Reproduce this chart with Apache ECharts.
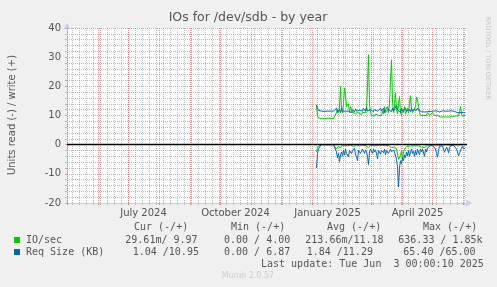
<!DOCTYPE html>
<html><head><meta charset="utf-8">
<script src="https://cdn.jsdelivr.net/npm/echarts@6/dist/echarts.min.js"></script>
<style>html,body{margin:0;padding:0;background:#f0f0f0}#c{width:497px;height:287px}</style>
</head><body><div id="c"></div>
<script>
const chartTitle = 'IOs for /dev/sdb - by year';
const yAxisTitle = 'Units read (-) / write (+)';
const seriesNames = ['IO/sec', 'Req Size (KB)'];
const seriesColors = ['#00CC00', '#0066B3'];
const firstDay = [2025, 0, 5];          // first daily sample
const axisEnd = [2025, 5, 4, 12];       // right edge of the time axis
const spanDays = 400;

// IO/sec write (+)
const ioWrite = [
 13.5,10.0,9.1,9.0,8.9,9.0,9.1,9.0,8.9,9.0,
 9.0,9.1,8.9,9.0,9.0,9.1,9.0,8.9,9.0,9.2,
 11.0,12.0,11.0,13.0,20.0,12.0,11.0,14.0,19.5,17.0,
 13.0,12.5,14.0,11.0,13.0,12.0,11.0,10.5,11.5,10.8,
 11.0,10.5,11.0,10.5,11.0,10.2,11.0,10.5,11.5,11.0,
 12.0,20.0,30.8,14.0,11.0,10.0,9.5,10.0,9.8,10.5,
 10.0,11.0,10.0,9.5,10.5,10.0,11.5,10.5,13.0,11.0,
 10.5,12.0,11.0,14.0,22.0,29.1,15.0,11.0,13.0,17.7,
 12.0,10.5,14.0,16.5,11.0,10.0,12.0,11.0,13.0,10.5,
 11.5,12.5,11.0,14.0,16.8,12.0,11.0,10.5,11.5,13.0,
 16.3,15.5,13.0,11.0,10.0,9.8,10.5,10.0,10.5,10.2,
 10.0,11.0,10.5,10.0,10.5,10.0,11.0,10.5,10.0,10.2,
 10.5,10.0,9.8,9.6,9.5,9.7,9.6,9.5,9.8,9.6,
 9.5,9.7,9.6,9.5,9.8,9.6,9.7,9.5,9.6,9.8,
 9.6,9.5,10.0,11.0,13.1,10.5,9.8,10.0,9.9,9.97
];
// IO/sec read (-)
const ioRead = [
 2.5,1.2,0.5,0.1,0.05,0.05,0.05,0.05,0.05,0.05,
 0.05,0.05,0.05,0.05,0.05,0.05,0.05,0.05,0.05,0.3,
 1.5,1.0,0.5,0.8,1.2,0.4,0.3,0.6,0.3,0.5,
 0.3,0.4,0.6,0.3,0.2,0.4,0.3,0.5,0.2,0.3,
 0.4,0.6,0.3,0.2,0.4,0.3,0.2,0.3,0.4,0.3,
 0.5,0.8,1.0,0.4,0.3,0.2,0.4,0.3,0.2,0.3,
 0.4,0.6,0.3,0.2,0.3,0.4,0.2,0.3,0.5,0.3,
 0.2,0.4,0.3,0.5,0.8,1.0,0.6,0.4,0.8,1.2,
 1.5,3.0,5.0,4.5,3.8,2.0,4.9,2.5,1.5,1.0,
 0.6,0.4,0.8,0.5,0.3,0.6,0.4,0.3,0.5,0.4,
 0.6,0.3,0.4,0.5,0.3,0.8,1.0,0.6,1.0,0.4,
 0.8,0.3,0.2,0.1,0.1,0.1,0.1,0.1,0.1,0.1,
 0.2,0.1,0.1,0.1,0.05,0.05,0.1,0.1,0.1,0.05,
 0.05,0.1,0.1,0.05,0.05,0.05,0.05,0.05,0.05,0.05,
 0.05,0.1,0.1,0.1,0.05,0.05,0.05,0.03,0.03,0.03
];
// Req Size write (+)
const reqWrite = [
 13.7,12.5,11.8,11.5,11.4,11.5,11.6,11.5,11.4,11.5,
 11.6,11.5,11.5,11.6,11.5,11.7,11.6,11.5,11.6,11.8,
 12.5,11.0,11.5,12.0,11.0,12.5,11.5,11.0,12.0,11.5,
 12.0,11.0,11.5,12.0,11.5,11.0,12.0,11.5,11.2,12.3,
 11.5,11.5,12.0,11.8,11.3,12.0,11.5,12.5,12.0,11.5,
 12.8,11.5,11.0,11.8,12.0,11.5,12.0,11.3,12.0,11.5,
 12.6,11.5,12.0,11.8,12.5,11.5,12.0,12.5,11.0,12.0,
 11.5,13.0,12.0,11.5,12.0,11.3,12.5,11.5,12.0,11.0,
 13.5,12.0,11.5,12.0,11.0,12.5,11.5,12.0,11.8,12.5,
 11.5,12.0,11.5,12.0,11.3,12.5,11.5,12.0,12.2,11.5,
 12.0,12.5,11.8,11.5,11.8,11.3,11.5,11.8,11.2,11.5,
 11.8,11.3,11.5,11.8,11.4,11.6,11.2,11.5,11.8,11.3,
 11.6,11.4,11.7,11.2,11.5,11.3,11.6,11.4,11.2,11.5,
 11.8,11.3,11.5,11.2,11.4,11.6,11.3,11.1,11.4,11.2,
 11.5,11.0,11.3,11.5,11.0,11.2,11.5,11.0,11.2,10.95
];
// Req Size read (-)
const reqRead = [
 8.0,3.0,1.5,0.8,0.5,0,0,0,0,0,
 0,0,0,0,0,0,0,0,0,0.5,
 2.5,4.5,3.0,5.8,3.5,2.5,4.0,2.0,3.5,1.5,
 3.0,2.5,4.2,2.0,1.5,3.0,2.0,2.5,1.2,3.5,
 4.2,5.5,2.0,1.5,3.0,2.5,1.5,2.0,3.0,1.8,
 2.5,4.0,6.8,2.5,1.5,2.0,3.0,1.5,2.5,1.8,
 3.0,4.8,2.0,1.5,3.2,2.0,1.5,2.8,1.5,3.5,
 2.0,1.5,3.0,2.2,1.5,2.5,3.0,1.8,2.5,3.0,
 5.0,7.6,14.5,8.0,5.5,6.5,4.5,5.5,3.5,4.5,
 2.5,3.8,2.0,4.0,2.5,1.5,3.0,2.2,4.0,2.0,
 3.5,1.5,2.5,3.5,1.5,2.5,1.5,2.0,4.0,1.5,
 2.5,1.2,0.8,0.5,1.0,0.3,0.2,0.5,0.2,1.5,
 3.0,4.3,2.0,0.5,0.3,0.2,0.5,1.0,2.6,2.0,
 0.8,1.5,2.8,1.0,0.3,0.2,0.4,0.2,0.3,0.5,
 1.5,2.5,3.8,3.0,2.5,1.2,0.5,1.5,1.2,1.04
];

const yMin = -20, yMax = 40, yStep = 10;
const xLabelMonths = [[2024, 6], [2024, 9], [2025, 0], [2025, 3]];
const monthNames = ['January','February','March','April','May','June','July','August','September','October','November','December'];

const legendHeader = ['Cur (-/+)', 'Min (-/+)', 'Avg (-/+)', 'Max (-/+)'];
const ioStats = ['29.61m/ 9.97', '0.00 / 4.00', '213.66m/11.18', '636.33 / 1.85k'];
const reqStats = ['1.04 /10.95', '0.00 / 6.87', '1.84 /11.29', '65.40 /65.00'];
const lastUpdate = 'Last update: Tue Jun  3 00:00:10 2025';
const footerText = 'Munin 2.0.57';
const sideText = 'RRDTOOL / TOBI OETIKER';

// ---------- build ----------
const DAY = 86400000;
const end = Date.UTC.apply(null, axisEnd);
const start = end - spanDays * DAY;
const t0 = Date.UTC.apply(null, firstDay);
const pos = arr => arr.map((v, i) => [t0 + i * DAY, v]);
const neg = arr => arr.map((v, i) => [t0 + i * DAY, -v]);

const monthStarts = [];
for (let y = 2024; y <= 2025; y++) for (let m = 0; m < 12; m++) {
  const t = Date.UTC(y, m, 1);
  if (t > start && t < end) monthStarts.push(t);
}
const weekStarts = [];
{
  let d = new Date(start); d = Date.UTC(d.getUTCFullYear(), d.getUTCMonth(), d.getUTCDate());
  while (new Date(d).getUTCDay() !== 1) d += DAY;
  for (; d < end; d += 7 * DAY) if (d > start) weekStarts.push(d);
}
const labelTimes = xLabelMonths.map(([y, m]) => Date.UTC(y, m, 1) + 15 * DAY);

const TXT = '#555';
const GRID = 'rgba(143,143,143,0.6)';
const MGRID = 'rgba(222,79,79,0.55)';
const AXIS = '#C4CCF4';
const SANS = 'DejaVu Sans';
const MONO = 'DejaVu Sans Mono';

const chart = echarts.init(document.getElementById('c'), null, {renderer: 'canvas'});

const lineSeries = (name, color, data, extra) => Object.assign({
  name, type: 'line', data, showSymbol: false, symbol: 'none',
  lineStyle: {color, width: 1}, itemStyle: {color},
  connectNulls: false, animation: false, silent: true, z: 4
}, extra || {});

const colX = [134, 231, 327, 423];
const ioX = [125.3, 224, 305.3, 398.3];
const reqX = [132.7, 224, 306.7, 403.3];
const monoText = (text, x, y) => ({type: 'text', x, y, silent: true,
  style: {text, fill: TXT, font: '10px "' + MONO + '"', align: 'left', verticalAlign: 'middle', textAlign: 'left', textVerticalAlign: 'middle'}});

const graphics = [
  {type: 'text', x: 248, y: 18, silent: true, style: {text: chartTitle, fill: TXT, font: '12.5px "' + SANS + '"', align: 'center', verticalAlign: 'middle', textAlign: 'center', textVerticalAlign: 'middle'}},
  {type: 'text', x: 12, y: 115, rotation: Math.PI / 2, silent: true, style: {text: yAxisTitle, fill: TXT, font: '10px "' + SANS + '"', align: 'center', verticalAlign: 'middle', textAlign: 'center', textVerticalAlign: 'middle'}},
  {type: 'text', x: 488, y: 58, rotation: -Math.PI / 2, silent: true, style: {text: sideText, fill: '#c4c4c4', font: '6.5px "' + SANS + '"', align: 'center', verticalAlign: 'middle', textAlign: 'center', textVerticalAlign: 'middle'}},
  {type: 'text', x: 248, y: 276, silent: true, style: {text: footerText, fill: '#cccccc', font: '8px "' + SANS + '"', align: 'center', verticalAlign: 'middle', textAlign: 'center', textVerticalAlign: 'middle'}},
  {type: 'rect', shape: {x: 14, y: 237, width: 6, height: 6}, style: {fill: seriesColors[0]}, silent: true},
  {type: 'rect', shape: {x: 14, y: 249, width: 6, height: 6}, style: {fill: seriesColors[1]}, silent: true},
  monoText(seriesNames[0], 26, 240),
  monoText(seriesNames[1], 26, 252),
  monoText(lastUpdate, 261, 264)
];
legendHeader.forEach((t, i) => graphics.push(monoText(t, colX[i], 227)));
ioStats.forEach((t, i) => graphics.push(monoText(t, ioX[i], 240)));
reqStats.forEach((t, i) => graphics.push(monoText(t, reqX[i], 252)));

const option = {
  animation: false,
  backgroundColor: '#f0f0f0',
  grid: {left: 67, right: 30, top: 28, bottom: 84, containLabel: false, outerBoundsMode: 'none',
         show: true, backgroundColor: '#ffffff', borderWidth: 0},
  xAxis: [
    {type: 'value', min: start, max: end, position: 'bottom', z: 3,
     axisLine: {show: true, onZero: false, lineStyle: {color: AXIS, width: 1}, symbol: ['none', 'arrow'], symbolSize: [6, 7], symbolOffset: [0, 5]},
     axisTick: {show: true, customValues: monthStarts, length: 2, lineStyle: {color: MGRID}},
     axisLabel: {show: false},
     splitLine: {show: true, lineStyle: {color: MGRID, type: 'dotted', width: 1}}},
    {type: 'value', min: start, max: end, position: 'bottom', z: 2,
     axisLine: {show: false, onZero: false},
     axisTick: {show: true, customValues: weekStarts, length: 2, lineStyle: {color: GRID}},
     axisLabel: {show: false},
     splitLine: {show: true, lineStyle: {color: GRID, type: 'dotted', width: 1}}},
    {type: 'value', min: start, max: end, position: 'bottom',
     axisLine: {show: false, onZero: false},
     axisTick: {show: false},
     axisLabel: {show: true, customValues: labelTimes, margin: 5, color: TXT, fontSize: 10, fontFamily: SANS,
       formatter: v => { const d = new Date(v); return monthNames[d.getUTCMonth()] + ' ' + d.getUTCFullYear(); }},
     splitLine: {show: false}}
  ],
  yAxis: {
    type: 'value', min: yMin, max: yMax, interval: yStep,
    axisLine: {show: true, onZero: false, lineStyle: {color: AXIS, width: 1}, symbol: ['none', 'arrow'], symbolSize: [6, 7], symbolOffset: [0, 5]},
    axisTick: {show: true, length: 2, lineStyle: {color: MGRID}},
    minorTick: {show: true, splitNumber: 5, length: 2, lineStyle: {color: GRID}},
    axisLabel: {color: TXT, fontSize: 10, fontFamily: SANS, margin: 6},
    splitLine: {show: true, lineStyle: {color: MGRID, type: 'dotted', width: 1}},
    minorSplitLine: {show: true, lineStyle: {color: GRID, type: 'dotted', width: 1}}
  },
  series: [
    lineSeries(seriesNames[0] + ' read', seriesColors[0], neg(ioRead)),
    lineSeries(seriesNames[0], seriesColors[0], pos(ioWrite)),
    lineSeries(seriesNames[1] + ' read', seriesColors[1], neg(reqRead)),
    lineSeries(seriesNames[1], seriesColors[1], pos(reqWrite), {
      markLine: {silent: true, symbol: 'none', animation: false, label: {show: false},
        lineStyle: {color: '#000000', width: 1.3, type: 'solid'}, data: [{yAxis: 0}]}
    })
  ],
  graphic: graphics
};
chart.setOption(option);
</script>
</body></html>
